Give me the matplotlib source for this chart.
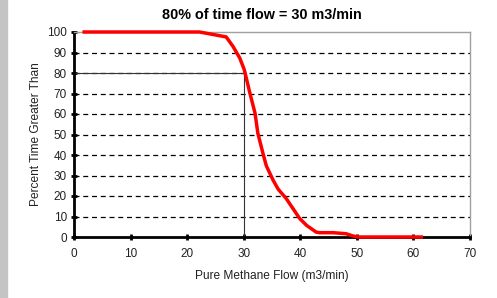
import matplotlib
matplotlib.use("Agg")
import matplotlib.pyplot as plt
from matplotlib.patches import Rectangle

plt.rcParams["font.family"] = ["Liberation Sans", "DejaVu Sans"]

# flow-duration curve
flow = [1.8, 22.2, 26.9, 28.1, 29.3, 30.1, 31.1, 32.0, 32.5, 33.4, 34.0, 35.2,
        36.1, 37.5, 38.7, 39.9, 41.1, 42.8, 43.4, 45.8, 48.1, 49.3, 50.2, 61.4]
percent = [100, 100, 97.6, 93, 87.3, 81.6, 70.1, 60.4, 50.6, 40.8, 34.7, 27.7,
           23.3, 18.8, 13.9, 9.0, 5.7, 2.4, 2.1, 2.1, 1.6, 0.5, 0, 0]

marker_flow = 30
marker_pct = 80
x_ticks = [0, 10, 20, 30, 40, 50, 60, 70]
y_ticks = [0, 10, 20, 30, 40, 50, 60, 70, 80, 90, 100]

fig = plt.figure(figsize=(4.97, 2.98), dpi=100)
fig.patches.append(Rectangle((0, 0), 7 / 497, 1, transform=fig.transFigure,
                             color="#c4c4c4", zorder=0))
ax = fig.add_axes([74 / 497, 61 / 298, 396 / 497, 205 / 298])

for y in y_ticks[1:-1]:
    ax.plot([0, 70], [y, y], color="black", lw=0.9, ls=(0, (4, 3)), zorder=1)
ax.plot([0, marker_flow], [marker_pct, marker_pct], color="#333333", lw=0.8, zorder=2)
ax.plot([marker_flow, marker_flow], [0, marker_pct], color="#333333", lw=0.8, zorder=2)

ax.plot(flow, percent, color="#ff0000", lw=2.5, solid_joinstyle="round", zorder=3,
        clip_on=False)

ax.set_xlim(0, 70)
ax.set_ylim(0, 100)
ax.set_xticks(x_ticks)
ax.set_yticks(y_ticks)
ax.tick_params(direction="inout", length=4, width=2, labelsize=8.5,
               colors="black", labelcolor="#222222")
ax.tick_params(axis="x", pad=6)
ax.tick_params(axis="y", pad=3)
for side in ("left", "bottom"):
    ax.spines[side].set_linewidth(2)
    ax.spines[side].set_color("black")
for side in ("top", "right"):
    ax.spines[side].set_linewidth(1)
    ax.spines[side].set_color("#a0a0a0")

ax.set_xlabel("Pure Methane Flow (m3/min)", fontsize=8.6, color="#222222", labelpad=7)
ax.set_ylabel("Percent Time Greater Than", fontsize=8.6, color="#222222", labelpad=4)
fig.text(262 / 497, 1 - 15 / 298, "80% of time flow = 30 m3/min", ha="center",
         va="center", fontsize=10.4, fontweight="bold")

fig.savefig("out.png", dpi=100)
